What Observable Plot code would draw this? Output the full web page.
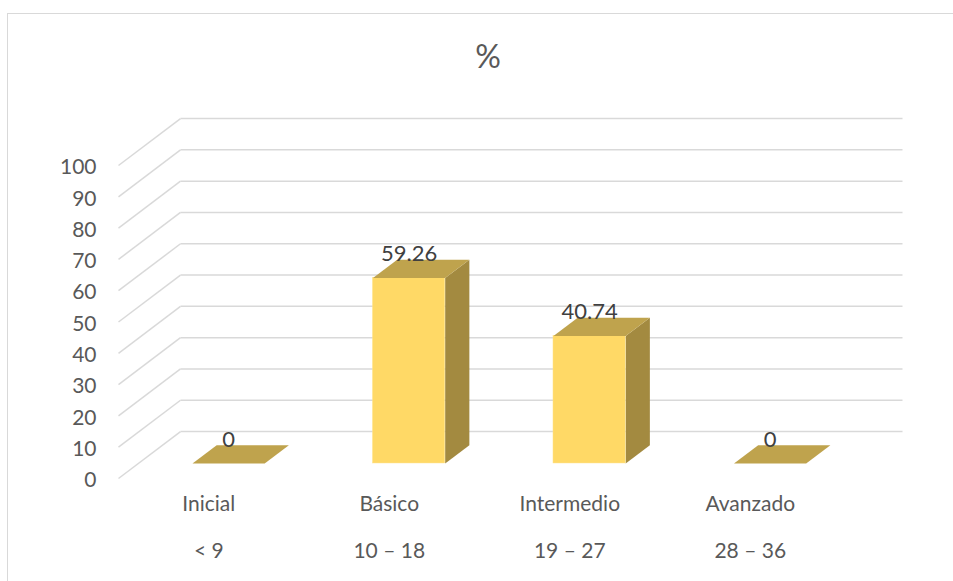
<!DOCTYPE html>
<html>
<head>
<meta charset="utf-8">
<script src="https://cdn.jsdelivr.net/npm/d3@7"></script>
<script src="https://cdn.jsdelivr.net/npm/@observablehq/plot@0.6"></script>
<style>
  html, body { margin: 0; padding: 0; background: #fff; }
  body { width: 953px; height: 581px; overflow: hidden; position: relative; font-family: Lato, "Open Sans", sans-serif; }
  #frame { position: absolute; left: 7px; top: 13px; width: 1000px; height: 1000px; border-left: 1.5px solid #d9d9d9; border-top: 1.5px solid #d9d9d9; }
  #title { position: relative; box-sizing: border-box; width: 976px; height: 90px; padding-top: 40px; text-align: center; font-size: 32px; line-height: 32px; color: #595959; }
  #chart { position: relative; }
  #chart svg { display: block; }
</style>
</head>
<body>
<div id="frame"></div>
<div id="title">%</div>
<div id="chart"></div>
<script>
// ---- data ----
const categories = ["Inicial", "Básico", "Intermedio", "Avanzado"];
const ranges = ["< 9", "10 – 18", "19 – 27", "28 – 36"];
const percents = [0, 59.26, 40.74, 0];
const yTicks = [0, 10, 20, 30, 40, 50, 60, 70, 80, 90, 100];

// ---- 3D geometry (in data units) ----
const DX = 0.3435;   // depth shift along x (category units) from front to back wall
const DV = 15;       // depth shift along y (value units) from front to back wall
const d1 = 0.32, d2 = 0.71;   // bar front / back depth
const hw = 0.2;                // half bar width

const bars = percents.map((v, i) => {
  const xc = i + 0.5;
  const x1 = xc - hw + d1 * DX, x2 = xc + hw + d1 * DX;
  const sx = (d2 - d1) * DX, sv = (d2 - d1) * DV;
  const base = d1 * DV, top = v + d1 * DV;
  return {i, v, xc, x1, x2, base, top, sx, sv};
});

const topFaces = bars.flatMap(b => [
  {id: b.i, x: b.x1, y: b.top},
  {id: b.i, x: b.x2, y: b.top},
  {id: b.i, x: b.x2 + b.sx, y: b.top + b.sv},
  {id: b.i, x: b.x1 + b.sx, y: b.top + b.sv}
]);
const sideFaces = bars.filter(b => b.v > 0).flatMap(b => [
  {id: b.i, x: b.x2, y: b.base},
  {id: b.i, x: b.x2, y: b.top},
  {id: b.i, x: b.x2 + b.sx, y: b.top + b.sv},
  {id: b.i, x: b.x2 + b.sx, y: b.base + b.sv}
]);
const frontFaces = bars.filter(b => b.v > 0);

const grid = "#d9d9d9";
const textColor = "#595959";
const font = "Lato, 'Open Sans', sans-serif";

const chart = Plot.plot({
  width: 953,
  height: 491,
  marginLeft: 118,
  marginRight: 0,
  marginTop: 0,
  marginBottom: 103,
  style: {fontFamily: font, background: "transparent", overflow: "visible"},
  x: {domain: [0, 4], range: [118, 840], axis: null},
  y: {domain: [0, 100], range: [388, 75], axis: null},
  marks: [
    // slanted side-wall gridlines
    Plot.link(yTicks, {x1: 0, y1: d => d, x2: DX, y2: d => d + DV, stroke: grid, strokeWidth: 1.5}),
    // back-wall gridlines
    Plot.link(yTicks, {x1: DX, y1: d => d + DV, x2: 4 + DX, y2: d => d + DV, stroke: grid, strokeWidth: 1.5}),
    // bar side faces
    Plot.line(sideFaces, {x: "x", y: "y", z: "id", fill: "#a38a40", stroke: "none"}),
    // bar front faces
    Plot.rect(frontFaces, {x1: "x1", x2: "x2", y1: "base", y2: "top", fill: "#ffd966", stroke: "#ffe38a", strokeWidth: 0.5}),
    // bar top faces
    Plot.line(topFaces, {x: "x", y: "y", z: "id", fill: "#bfa34d", stroke: "none"}),
    // value labels
    Plot.text(bars, {x: b => b.xc + d1 * DX, y: "top", text: b => String(b.v), dy: -24, fontSize: 22, fill: "#404040", lineAnchor: "middle"}),
    // y tick labels
    Plot.text(yTicks, {y: d => d, text: d => String(d), frameAnchor: "left", textAnchor: "end", dx: -22, dy: 2, fontSize: 21, fill: textColor}),
    // category labels
    Plot.text(categories, {x: (d, i) => i + 0.5, text: d => d, frameAnchor: "bottom", dy: 32, fontSize: 21, fill: textColor}),
    Plot.text(ranges, {x: (d, i) => i + 0.5, text: d => d, frameAnchor: "bottom", dy: 79, fontSize: 21, fill: textColor})
  ]
});
document.getElementById("chart").appendChild(chart);
</script>
</body>
</html>
